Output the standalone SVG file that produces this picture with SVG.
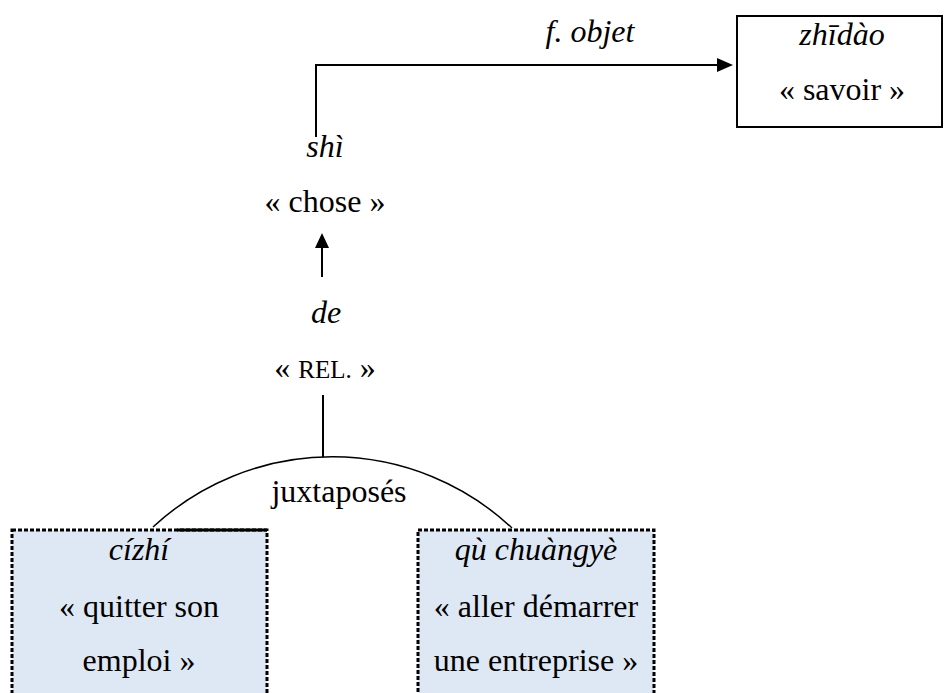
<svg xmlns="http://www.w3.org/2000/svg" width="944" height="693" viewBox="0 0 944 693">
<style>
text{font-family:"Liberation Serif","Times New Roman",serif;font-size:32px;fill:#000;text-anchor:middle}
.it{font-style:italic}
.sc{font-size:25px}
.line{fill:none;stroke:#000;stroke-width:2}
.head{fill:#000}
.dot{fill:#dde8f4;stroke:#000;stroke-width:3;stroke-dasharray:4 2}
</style>
<g id="connectors">
<path class="line" d="M316,137 V65 H718"/>
<path class="head" d="M717,58 L733,65 L717,72 Z"/>
<path class="line" d="M322,277 V247"/>
<path class="head" d="M315,248 L322,233 L329,248 Z"/>
<path class="line" d="M323,395 V457"/>
<path d="M153,527 A263.4,263.4 0 0 1 512,528" fill="none" stroke="#000" stroke-width="1.5"/>
<text x="590" y="42" class="it">f. objet</text>
<text x="339" y="502">juxtaposés</text>
</g>
<g id="zhidao">
<rect x="737" y="16" width="205" height="111" fill="#fff" stroke="#000" stroke-width="2"/>
<text x="842" y="45" class="it">zhīdào</text>
<text x="842" y="100">« savoir »</text>
</g>
<g id="shi">
<text x="325" y="157" class="it">shì</text>
<text x="325" y="212">« chose »</text>
</g>
<g id="de">
<text x="326" y="323" class="it">de</text>
<text x="325" y="378">« <tspan class="sc">REL.</tspan> »</text>
</g>
<g id="cizhi">
<rect class="dot" x="12" y="530" width="255" height="175"/>
<path d="M177,530 H267" stroke="#000" stroke-width="3"/>
<text x="139" y="560" class="it">cízhí</text>
<text x="139" y="617">« quitter son</text>
<text x="139" y="671">emploi »</text>
</g>
<g id="quchuangye">
<rect class="dot" x="418" y="530" width="236" height="175"/>
<text x="536" y="560" class="it">qù chuàngyè</text>
<text x="536" y="617">« aller démarrer</text>
<text x="536" y="671">une entreprise »</text>
</g>
</svg>
